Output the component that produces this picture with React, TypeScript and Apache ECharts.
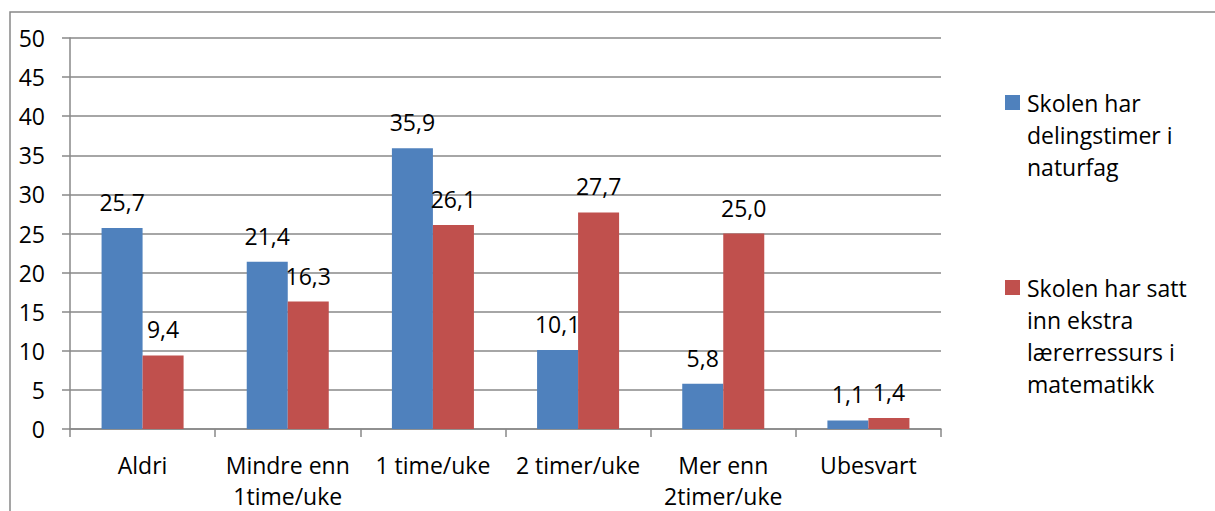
import React, { useEffect, useRef } from "react";
import * as echarts from "echarts";

const categories = ["Aldri", "Mindre enn\n1time/uke", "1 time/uke", "2 timer/uke", "Mer enn\n2timer/uke", "Ubesvart"];
const delingstimer = [25.7, 21.4, 35.9, 10.1, 5.8, 1.1];
const ekstraRessurs = [9.4, 16.3, 26.1, 27.7, 25.0, 1.4];
const seriesNames = ["Skolen har\ndelingstimer i\nnaturfag", "Skolen har satt\ninn ekstra\nlærerressurs i\nmatematikk"];
const seriesColors = ["#4F81BD", "#C0504D"];

const FONT = "'Open Sans', 'Noto Sans', sans-serif";
const FS = 23;
const GRID = "#888888";

const fmt = (v: number) => v.toFixed(1).replace(".", ",");

export default function App() {
  const ref = useRef<HTMLDivElement>(null);

  useEffect(() => {
    if (!ref.current) return;
    const chart = echarts.init(ref.current, undefined, { renderer: "svg" });

    const labelCfg = {
      show: true,
      position: "top",
      distance: 15,
      fontFamily: FONT,
      fontSize: FS,
      lineHeight: 22,
      color: "#000",
      formatter: (p: any) => fmt(p.value),
    };

    const legendItems: any[] = [];
    const legendTops = [87, 272];
    seriesNames.forEach((name, i) => {
      const markerTop = legendTops[i] + 8;
      legendItems.push({
        type: "rect",
        shape: { x: 1005, y: markerTop, width: 15, height: 15 },
        style: { fill: seriesColors[i] },
      });
      legendItems.push({
        type: "text",
        x: 1027,
        y: legendTops[i],
        style: {
          text: name,
          font: `${FS}px ${FONT}`,
          lineHeight: 32,
          fill: "#000",
          verticalAlign: "top",
          align: "left",
        },
      });
    });

    chart.setOption({
      animation: false,
      backgroundColor: "#fff",
      grid: { left: 70, right: 274, top: 38, bottom: 80, containLabel: false },
      xAxis: {
        type: "category",
        data: categories,
        boundaryGap: true,
        axisLine: { show: true, lineStyle: { color: GRID, width: 1.5 } },
        axisTick: { show: true, length: 8, alignWithLabel: false, lineStyle: { color: GRID, width: 1.5 } },
        axisLabel: {
          interval: 0,
          margin: 20,
          fontFamily: FONT,
          fontSize: FS,
          lineHeight: 31,
          color: "#000",
        },
      },
      yAxis: {
        type: "value",
        min: 0,
        max: 50,
        interval: 5,
        axisLine: { show: true, lineStyle: { color: GRID, width: 1.5 } },
        axisTick: { show: true, length: 8, lineStyle: { color: GRID, width: 1.5 } },
        splitLine: { show: true, lineStyle: { color: GRID, width: 1.5 } },
        axisLabel: {
          margin: 25,
          fontFamily: FONT,
          fontSize: FS,
          color: "#000",
        },
      },
      series: [
        {
          name: "Skolen har delingstimer i naturfag",
          type: "bar",
          data: delingstimer,
          itemStyle: { color: seriesColors[0] },
          barGap: "0%",
          barCategoryGap: "43.5%",
          label: labelCfg,
        },
        {
          name: "Skolen har satt inn ekstra lærerressurs i matematikk",
          type: "bar",
          data: ekstraRessurs,
          itemStyle: { color: seriesColors[1] },
          barGap: "0%",
          barCategoryGap: "43.5%",
          label: labelCfg,
        },
      ],
      graphic: [
        {
          type: "rect",
          shape: { x: 10, y: 12, width: 1400, height: 700 },
          style: { fill: "none", stroke: GRID, lineWidth: 1.5 },
          silent: true,
        },
        ...legendItems,
      ],
    });

    return () => chart.dispose();
  }, []);

  return (
    <div
      ref={ref}
      style={{ position: "absolute", left: 0, top: 0, width: 1215, height: 511 }}
    />
  );
}
